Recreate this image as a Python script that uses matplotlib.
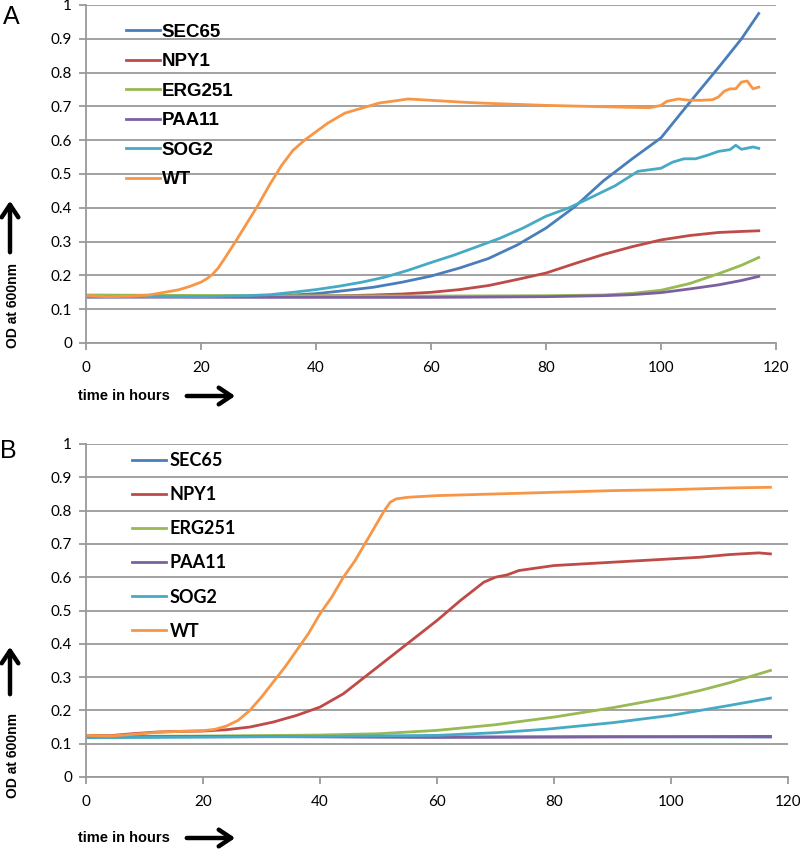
import matplotlib
matplotlib.use("Agg")
import matplotlib.pyplot as plt
from matplotlib.patches import FancyArrowPatch
from matplotlib.ticker import FuncFormatter, MultipleLocator

# strains, in legend order
strains = ["SEC65", "NPY1", "ERG251", "PAA11", "SOG2", "WT"]
colors = ["#4A7EBB", "#BE4B48", "#98B954", "#7D60A0", "#46AAC5", "#F79646"]

# ---- panel A ----
a_sec65_t = [0, 10, 20, 30, 35, 40, 45, 50, 55, 60, 65, 70, 75, 80, 85, 90, 95, 100, 105, 110, 114, 117]
a_sec65_od = [0.136, 0.137, 0.138, 0.139, 0.141, 0.146, 0.155, 0.165, 0.18, 0.198, 0.222, 0.25,
              0.29, 0.34, 0.403, 0.48, 0.545, 0.607, 0.712, 0.815, 0.9, 0.975]
a_npy1_t = [0, 30, 45, 50, 55, 60, 65, 70, 75, 80, 85, 90, 95, 100, 105, 110, 114, 117]
a_npy1_od = [0.138, 0.138, 0.14, 0.142, 0.145, 0.15, 0.158, 0.17, 0.188, 0.207, 0.235, 0.262,
             0.285, 0.305, 0.318, 0.327, 0.33, 0.332]
a_erg251_t = [0, 30, 60, 80, 90, 95, 100, 105, 110, 114, 117]
a_erg251_od = [0.142, 0.14, 0.139, 0.14, 0.142, 0.147, 0.156, 0.176, 0.205, 0.23, 0.253]
a_paa11_t = [0, 30, 60, 80, 90, 95, 100, 105, 110, 114, 117]
a_paa11_od = [0.136, 0.135, 0.135, 0.137, 0.14, 0.143, 0.149, 0.16, 0.172, 0.185, 0.197]
a_sog2_t = [0, 20, 28, 32, 36, 40, 44, 48, 52, 56, 60, 64, 68, 72, 76, 80, 84, 88, 92, 96,
            100, 102, 104, 106, 108, 110, 112, 113, 114, 116, 117]
a_sog2_od = [0.138, 0.137, 0.14, 0.143, 0.15, 0.158, 0.168, 0.18, 0.195, 0.215, 0.238, 0.26,
             0.285, 0.31, 0.34, 0.375, 0.40, 0.432, 0.465, 0.508, 0.517, 0.535, 0.545, 0.545,
             0.555, 0.567, 0.572, 0.585, 0.573, 0.58, 0.576]
a_wt_t = [0, 4, 8, 11, 13, 16, 18, 20, 21, 22, 23, 24, 26, 28, 30, 32, 34, 36, 38, 40, 42, 45,
          48, 51, 54, 56, 58, 62, 66, 70, 75, 80, 85, 90, 95, 98, 100, 101, 103, 105, 107, 109,
          110, 111, 112, 113, 114, 115, 116, 117]
a_wt_od = [0.14, 0.137, 0.139, 0.142, 0.148, 0.157, 0.167, 0.18, 0.19, 0.203, 0.222, 0.247,
           0.30, 0.355, 0.41, 0.47, 0.525, 0.57, 0.60, 0.625, 0.65, 0.68, 0.695, 0.71, 0.717,
           0.722, 0.72, 0.716, 0.712, 0.709, 0.706, 0.703, 0.701, 0.699, 0.697, 0.696, 0.703,
           0.715, 0.722, 0.718, 0.718, 0.72, 0.728, 0.745, 0.752, 0.752, 0.772, 0.775, 0.752,
           0.757]

# ---- panel B ----
b_sec65_t = [0, 30, 60, 90, 117]
b_sec65_od = [0.12, 0.121, 0.12, 0.121, 0.12]
b_npy1_t = [0, 4, 8, 12, 16, 20, 24, 28, 32, 36, 40, 44, 48, 52, 56, 60, 64, 68, 70, 72, 74,
            76, 80, 85, 90, 95, 100, 105, 110, 115, 117]
b_npy1_od = [0.125, 0.124, 0.13, 0.135, 0.137, 0.138, 0.142, 0.15, 0.165, 0.185, 0.21, 0.25,
             0.305, 0.36, 0.415, 0.47, 0.53, 0.585, 0.6, 0.607, 0.62, 0.625, 0.635, 0.64,
             0.645, 0.65, 0.655, 0.66, 0.668, 0.673, 0.67]
b_erg251_t = [0, 20, 40, 50, 60, 70, 80, 90, 100, 105, 110, 117]
b_erg251_od = [0.122, 0.123, 0.126, 0.13, 0.14, 0.157, 0.18, 0.208, 0.24, 0.26, 0.283, 0.32]
b_paa11_t = [0, 20, 40, 60, 80, 100, 117]
b_paa11_od = [0.12, 0.122, 0.121, 0.119, 0.12, 0.121, 0.122]
b_sog2_t = [0, 20, 40, 60, 70, 79, 90, 100, 105, 110, 117]
b_sog2_od = [0.118, 0.12, 0.122, 0.125, 0.133, 0.144, 0.163, 0.185, 0.20, 0.215, 0.237]
b_wt_t = [0, 4, 8, 12, 16, 20, 22, 24, 26, 28, 30, 32, 34, 36, 38, 40, 42, 44, 46, 48, 50, 51,
          52, 53, 55, 60, 70, 80, 90, 100, 110, 117]
b_wt_od = [0.125, 0.123, 0.128, 0.134, 0.137, 0.139, 0.143, 0.153, 0.17, 0.2, 0.24, 0.285,
           0.33, 0.38, 0.43, 0.49, 0.54, 0.6, 0.65, 0.71, 0.77, 0.80, 0.825, 0.835, 0.84,
           0.845, 0.85, 0.855, 0.86, 0.863, 0.868, 0.87]

panel_a = [(a_sec65_t, a_sec65_od), (a_npy1_t, a_npy1_od), (a_erg251_t, a_erg251_od),
           (a_paa11_t, a_paa11_od), (a_sog2_t, a_sog2_od), (a_wt_t, a_wt_od)]
panel_b = [(b_sec65_t, b_sec65_od), (b_npy1_t, b_npy1_od), (b_erg251_t, b_erg251_od),
           (b_paa11_t, b_paa11_od), (b_sog2_t, b_sog2_od), (b_wt_t, b_wt_od)]

GRAY = "#9a9a9a"
W, H = 800, 851

fig = plt.figure(figsize=(8, 8.51), dpi=100)


def px_axes(left, top, right, bottom):
    return fig.add_axes([left / W, 1 - bottom / H, (right - left) / W, (bottom - top) / H])


def style_axes(ax):
    ax.set_xlim(0, 120)
    ax.set_ylim(0, 1)
    ax.xaxis.set_major_locator(MultipleLocator(20))
    ax.yaxis.set_major_locator(MultipleLocator(0.1))
    ax.yaxis.set_major_formatter(FuncFormatter(lambda v, p: f"{v:.1f}".rstrip("0").rstrip(".")))
    ax.grid(axis="y", color=GRAY, lw=1.3)
    ax.set_axisbelow(True)
    for s in ("top", "right"):
        ax.spines[s].set_visible(False)
    for s in ("left", "bottom"):
        ax.spines[s].set_color(GRAY)
        ax.spines[s].set_linewidth(1.3)
    ax.tick_params(colors=GRAY, width=1.3, length=5, labelcolor="black", labelsize=11)
    ax.tick_params(axis="x", pad=8)
    ax.tick_params(axis="y", pad=5)
    for lab in ax.get_xticklabels() + ax.get_yticklabels():
        lab.set_family("Lato")


def arrow(x0, y0, x1, y1):
    fig.add_artist(FancyArrowPatch(
        (x0 / W, 1 - y0 / H), (x1 / W, 1 - y1 / H), transform=fig.transFigure,
        arrowstyle="->,head_length=0.45,head_width=0.3", lw=3.2, color="black",
        mutation_scale=20))


ax_a = px_axes(86, 5, 776, 343)
ax_b = px_axes(86, 444, 788, 777)

for ax, series in ((ax_a, panel_a), (ax_b, panel_b)):
    for (t, od), name, c in zip(series, strains, colors):
        ax.plot(t, od, color=c, lw=2.0, label=name)
    style_axes(ax)

ax_a.legend(loc="upper left", bbox_to_anchor=(0.058, 0.945), frameon=False,
            prop={"family": "Liberation Sans", "weight": "bold", "size": 13.5},
            handlelength=1.8, handletextpad=0.1, labelspacing=0.66,
            borderpad=0, borderaxespad=0)
ax_b.legend(loc="upper left", bbox_to_anchor=(0.066, 0.976), frameon=False,
            prop={"family": "Lato", "weight": "bold", "size": 13},
            handlelength=1.85, handletextpad=0.2, labelspacing=0.95,
            borderpad=0, borderaxespad=0)

# panel letters
fig.text(3 / W, 1 - 17 / H, "A", fontsize=18, family="Liberation Sans", va="center")
fig.text(0 / W, 1 - 451 / H, "B", fontsize=18, family="Liberation Sans", va="center")

# axis labels with arrows
for ylab_c, xlab_y, yarr, xarr_y in ((305, 396, (255, 198), 396), (756, 838, (697, 644), 838)):
    fig.text(13 / W, 1 - ylab_c / H, "OD at 600nm", rotation=90, ha="center", va="center",
             fontsize=10, weight="bold", family="Liberation Sans")
    fig.text(78 / W, 1 - xlab_y / H, "time in hours", ha="left", va="center",
             fontsize=10.5, weight="bold", family="Liberation Sans")
    arrow(10, yarr[0], 10, yarr[1])
    arrow(184, xarr_y, 238, xarr_y)

fig.savefig("out.png", dpi=100)
